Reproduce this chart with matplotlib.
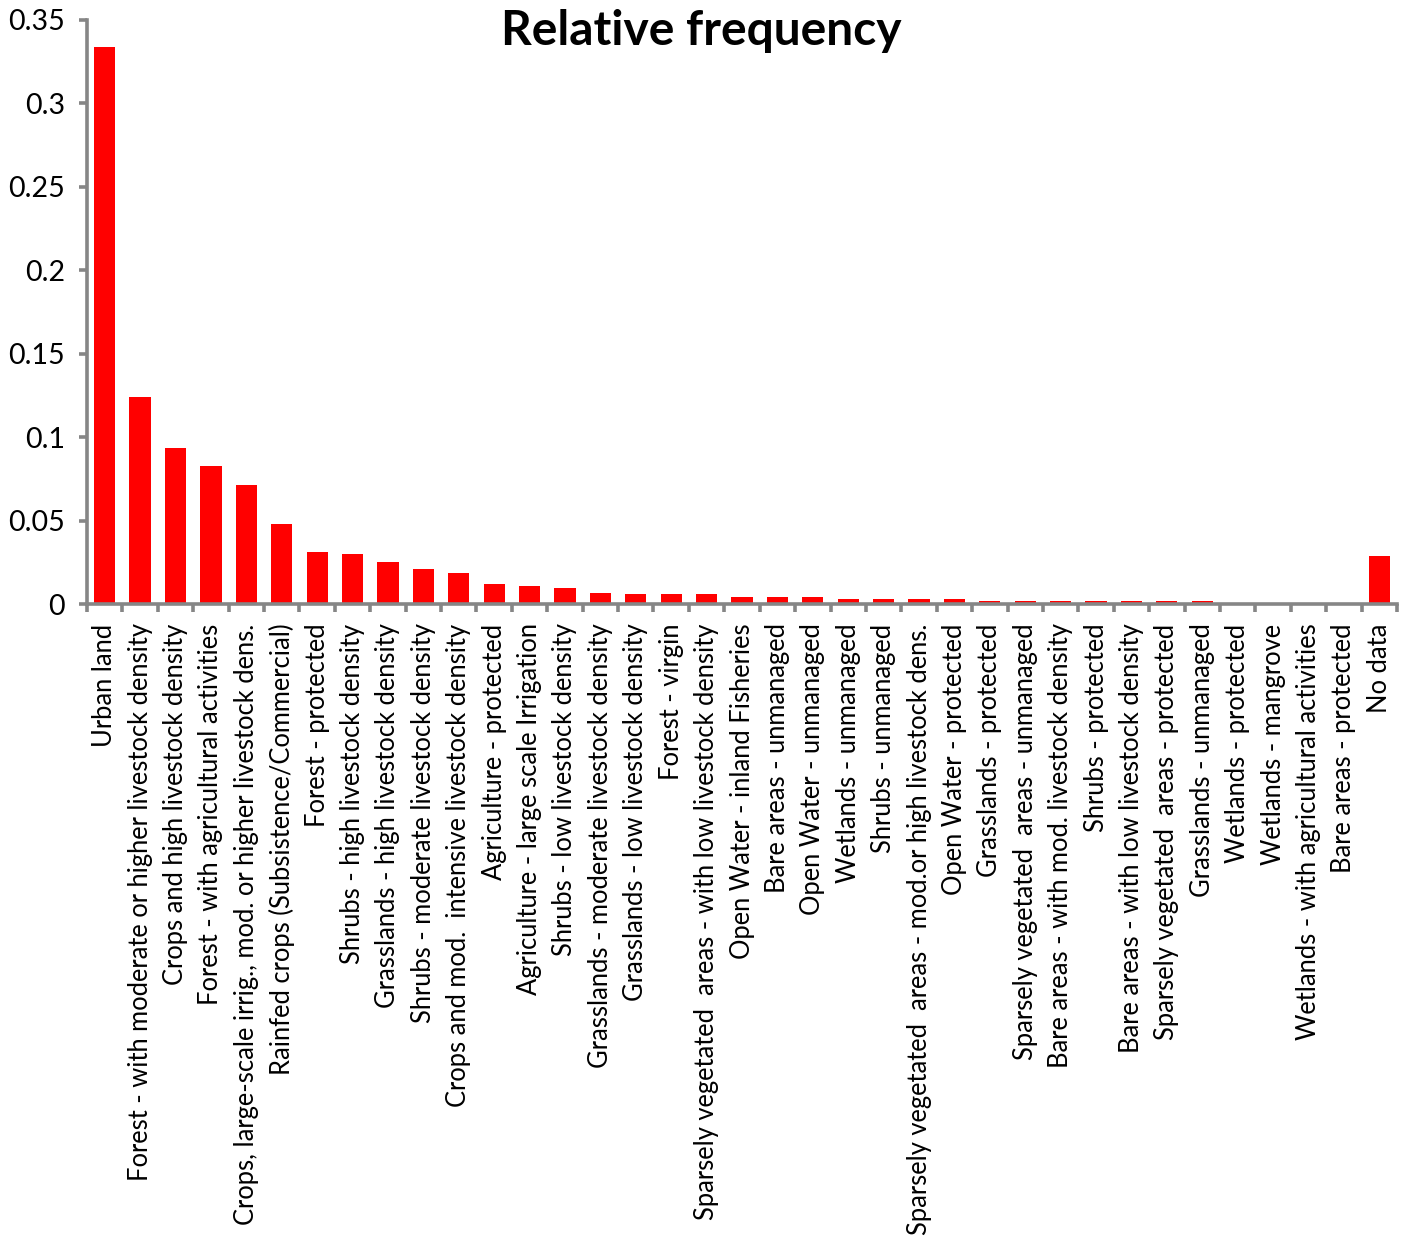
import matplotlib
matplotlib.use("Agg")
import matplotlib.pyplot as plt
import numpy as np

categories = [
    "Urban land",
    "Forest - with moderate or higher livestock density",
    "Crops and high livestock density",
    "Forest - with agricultural activities",
    "Crops, large-scale irrig., mod. or higher livestock dens.",
    "Rainfed crops (Subsistence/Commercial)",
    "Forest - protected",
    "Shrubs - high livestock density",
    "Grasslands - high livestock density",
    "Shrubs - moderate livestock density",
    "Crops and mod.  intensive livestock density",
    "Agriculture - protected",
    "Agriculture - large scale Irrigation",
    "Shrubs - low livestock density",
    "Grasslands - moderate livestock density",
    "Grasslands - low livestock density",
    "Forest - virgin",
    "Sparsely vegetated  areas - with low livestock density",
    "Open Water - inland Fisheries",
    "Bare areas - unmanaged",
    "Open Water - unmanaged",
    "Wetlands - unmanaged",
    "Shrubs - unmanaged",
    "Sparsely vegetated  areas - mod.or high livestock dens.",
    "Open Water - protected",
    "Grasslands - protected",
    "Sparsely vegetated  areas - unmanaged",
    "Bare areas - with mod. livestock density",
    "Shrubs - protected",
    "Bare areas - with low livestock density",
    "Sparsely vegetated  areas - protected",
    "Grasslands - unmanaged",
    "Wetlands - protected",
    "Wetlands - mangrove",
    "Wetlands - with agricultural activities",
    "Bare areas - protected",
    "No data",
]

frequency = [
    0.3335, 0.124, 0.0932, 0.0828, 0.0713, 0.0481, 0.0313, 0.0299,
    0.0250, 0.0210, 0.0184, 0.0122, 0.0108, 0.0094, 0.0068, 0.0058,
    0.0058, 0.0058, 0.0042, 0.0042, 0.0042, 0.0028, 0.0028, 0.0028,
    0.0028, 0.0016, 0.0016, 0.0016, 0.0016, 0.0016, 0.0016, 0.0016,
    0.0, 0.0, 0.0, 0.0, 0.029,
]

y_ticks = [0, 0.05, 0.1, 0.15, 0.2, 0.25, 0.3, 0.35]
y_tick_labels = ["0", "0.05", "0.1", "0.15", "0.2", "0.25", "0.3", "0.35"]

plt.rcParams["font.family"] = ["Lato", "DejaVu Sans"]

W, H = 1404, 1253
fig = plt.figure(figsize=(W / 100, H / 100), dpi=100)
ax = fig.add_axes([87 / W, 1 - 604 / H, (1397 - 87) / W, (604 - 19.5) / H])

x = np.arange(len(categories))
ax.bar(x, frequency, width=0.6, color="#ff0000", zorder=2)

ax.set_xlim(-0.5, len(categories) - 0.5)
ax.set_ylim(0, 0.35)

axis_grey = "#868686"
for side in ("top", "right"):
    ax.spines[side].set_visible(False)
for side in ("left", "bottom"):
    ax.spines[side].set_color(axis_grey)
    ax.spines[side].set_linewidth(2.6)
    ax.spines[side].set_zorder(3)

ax.set_yticks(y_ticks)
ax.set_yticklabels(y_tick_labels, fontsize=20.5)
ax.tick_params(axis="y", length=6, width=2.6, color=axis_grey, pad=10)

# category ticks sit between bars; labels sit under each bar
ax.set_xticks(np.arange(len(categories) + 1) - 0.5)
ax.set_xticklabels([])
ax.set_xticks(x, minor=True)
ax.set_xticklabels(categories, minor=True, rotation=90, fontsize=18.4,
                   va="top", ha="center")
ax.tick_params(axis="x", which="major", length=6, width=2.6, color=axis_grey)
ax.tick_params(axis="x", which="minor", length=0, pad=14)

fig.text(701 / W, 1 - 31 / H, "Relative frequency", ha="center", va="center",
         fontsize=34.5, fontweight="bold")

fig.savefig("out.png", dpi=100, facecolor="white")
